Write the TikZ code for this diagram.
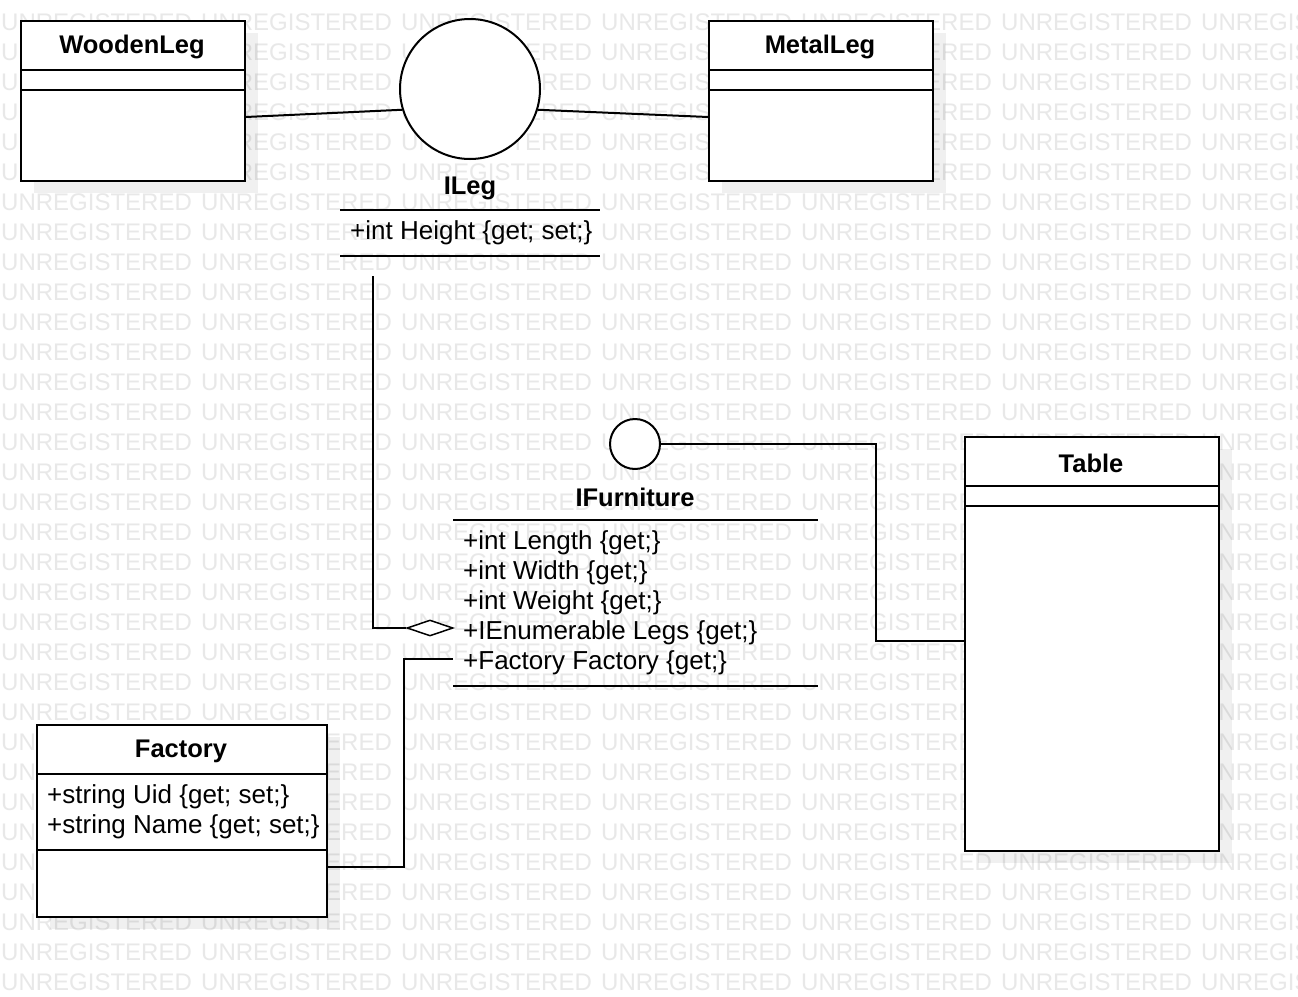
\documentclass[tikz,border=0pt]{standalone}
\usepackage{fontspec}
\setmainfont{Liberation Sans}
\usetikzlibrary{shapes.geometric}
\begin{document}
\begin{tikzpicture}[x=1pt,y=-1pt,
 box/.style={draw=black, line width=2pt, fill=white, inner sep=0, anchor=north west},
 shadowbox/.style={fill=black, fill opacity=0.06, draw=none},
 ttl/.style={font=\fontsize{25.5}{30}\selectfont\bfseries, inner sep=0},
 attr/.style={font=\fontsize{26}{30}\selectfont, inner sep=0, anchor=west},
 wm/.style={font=\fontsize{24}{24}\selectfont, text=black!9, inner sep=0, anchor=west},
 sep/.style={draw=black, line width=2pt},
 conn/.style={draw=black, line width=2pt},
 iface/.style={circle, draw=black, line width=2pt, fill=white, inner sep=0}]
\useasboundingbox (0,0) rectangle (1298,996);
\fill[white] (0,0) rectangle (1298,996);
% watermark
\foreach \r in {0,...,32} {
  \foreach \c in {0,...,6} {
    \node[wm] (wm-\r-\c) at (\c*200+1, 22+\r*30) {UNREGISTERED};
  }
}
% shadows
\fill[shadowbox] (34,33) rectangle (258,193);
\fill[shadowbox] (722,33) rectangle (946,193);
\fill[shadowbox] (978,449) rectangle (1232,863);
\fill[shadowbox] (50,737) rectangle (340,929);
% WoodenLeg
\node[box, minimum width=224, minimum height=160] (wood) at (20,20) {};
\draw[sep] (20,70) -- (244,70);
\draw[sep] (20,90) -- (244,90);
\node[ttl] (woodt) at (132,47) {WoodenLeg};
% MetalLeg
\node[box, minimum width=224, minimum height=160] (metal) at (708,20) {};
\draw[sep] (708,70) -- (932,70);
\draw[sep] (708,90) -- (932,90);
\node[ttl] (metalt) at (820,47) {MetalLeg};
% ILeg
\node[iface, minimum size=140] (ileg) at (470,89) {};
\node[ttl] (ilegt) at (470,188) {ILeg};
\draw[sep] (340,210) -- (600,210);
\node[attr] (ilega) at (350,233) {+int Height \{get; set;\}};
\draw[sep] (340,256) -- (600,256);
\draw[conn] ([yshift=-16pt]wood.east) -- (ileg.197);
\draw[conn] (ileg.-17) -- ([yshift=-16pt]metal.west);
% IFurniture
\node[iface, minimum size=50] (ifc) at (635,444) {};
\node[ttl] (ifct) at (635,497) {IFurniture};
\draw[sep] (453,520) -- (818,520);
\node[attr] (ifa1) at (463,543) {+int Length \{get;\}};
\node[attr] (ifa2) at (463,573) {+int Width \{get;\}};
\node[attr] (ifa3) at (463,603) {+int Weight \{get;\}};
\node[attr] (ifa4) at (463,633) {+IEnumerable Legs \{get;\}};
\node[attr] (ifa5) at (463,663) {+Factory Factory \{get;\}};
\draw[sep] (453,686) -- (818,686);
% Table
\node[box, minimum width=254, minimum height=414] (table) at (964,436) {};
\draw[sep] (964,486) -- (1218,486);
\draw[sep] (964,506) -- (1218,506);
\node[ttl] (tablet) at (1091,463) {Table};
% Factory
\node[box, minimum width=290, minimum height=192] (factory) at (36,724) {};
\draw[sep] (36,774) -- (326,774);
\draw[sep] (36,850) -- (326,850);
\node[ttl] (factoryt) at (181,751) {Factory};
\node[attr] (fa1) at (47,797) {+string Uid \{get; set;\}};
\node[attr] (fa2) at (47,827) {+string Name \{get; set;\}};
% aggregation ILeg -> IFurniture.Legs
\coordinate (ag0) at (373,276);
\node[diamond, draw=black, line width=1.5pt, fill=white, inner sep=0, minimum width=46, minimum height=16] (dia) at (430,628) {};
\draw[conn] (ag0) |- (dia.west);
% IFurniture -> Table
\coordinate (tb0) at (876,641);
\draw[conn] (ifc.east) -| (tb0) -- (table.west |- tb0);
% IFurniture.Factory -> Factory
\coordinate (fc0) at (453,659);
\coordinate (fc1) at (404,867);
\draw[conn] (fc0) -| (fc1) -- (factory.east |- fc1);
\end{tikzpicture}
\end{document}
